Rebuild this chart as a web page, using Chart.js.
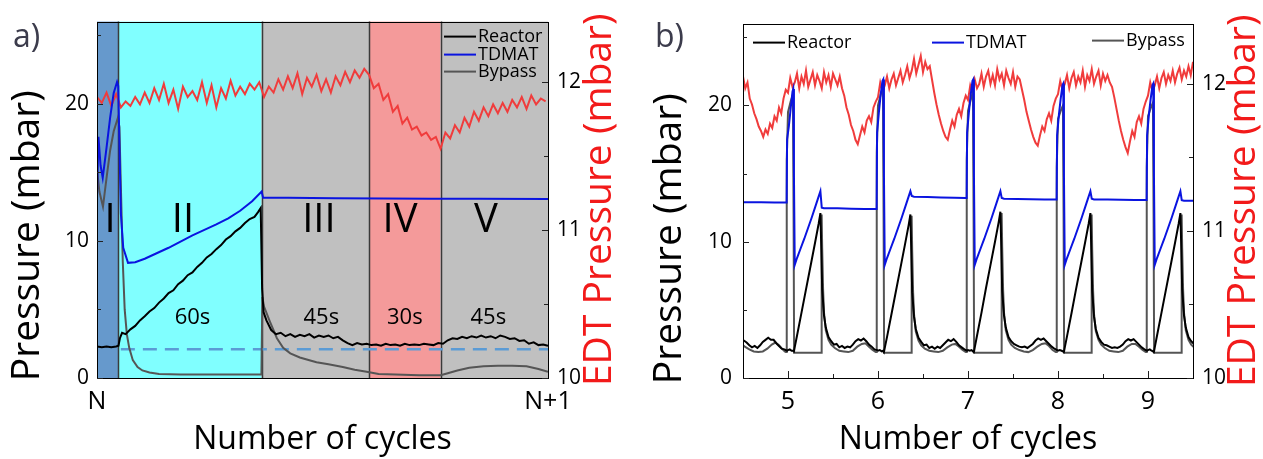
<!DOCTYPE html>
<html>
<head>
<meta charset="utf-8">
<script src="https://cdn.jsdelivr.net/npm/chart.js@4.4.1/dist/chart.umd.min.js"></script>
<style>
  html, body { margin: 0; padding: 0; background: #fff; }
  #wrap { position: relative; width: 1263px; height: 459px; }
  canvas { position: absolute; top: 0; }
</style>
</head>
<body>
<div id="wrap">
  <canvas id="chartA" width="632" height="459" style="left:0px;width:632px;height:459px"></canvas>
  <canvas id="chartB" width="631" height="459" style="left:632px;width:631px;height:459px"></canvas>
</div>
<script>
/* ---------- panel a : one cycle, time in seconds ---------- */
const aPhaseEdges = [0, 9, 69, 114, 144, 189]
const aPhaseNames = ['I', 'II', 'III', 'IV', 'V']
const aPhaseNameT = [5.5, 36, 93, 127, 163]
const aPhaseTimes = ['', '60s', '45s', '30s', '45s']
const aPhaseTimeT = [0, 40, 94, 129, 164]
const aXTickValues = [0, 189]
const aXTickLabels = ['N', 'N+1']

const aReactorT = [0, 2, 4, 6, 8, 9, 9.6, 10.5, 12, 14, 16, 18, 20, 22, 24, 26, 28, 30, 32, 34, 36, 38, 40, 42, 44, 46, 48, 50, 52, 54, 56, 58, 60, 62, 64, 66, 67.5, 68.6, 69.2, 69.8, 71, 73, 75, 77, 79, 81, 83, 85, 87, 89, 91, 93, 95, 97, 99, 101, 103, 105, 107, 109, 111, 113, 115, 117, 119, 121, 123, 125, 127, 129, 131, 133, 135, 137, 139, 141, 143, 145, 147, 149, 151, 153, 155, 157, 159, 161, 163, 165, 167, 169, 171, 173, 175, 177, 179, 181, 183, 185, 187, 189]
const aReactor = [2.3, 2.25, 2.3, 2.25, 2.3, 2.35, 2.9, 3.3, 3.2, 3.55, 3.8, 4.2, 4.5, 4.85, 5.1, 5.5, 5.8, 6.2, 6.4, 6.85, 7.1, 7.5, 7.7, 8.1, 8.4, 8.8, 9.05, 9.4, 9.7, 10.1, 10.35, 10.7, 10.95, 11.3, 11.6, 11.75, 12.1, 12.4, 6.5, 4.8, 4.2, 3.5, 3.2, 3.3, 3.05, 3.2, 3.0, 3.15, 3.05, 3.2, 2.95, 3.1, 3.0, 3.1, 2.9, 3.0, 2.75, 2.55, 2.4, 2.55, 2.45, 2.5, 2.4, 2.45, 2.35, 2.5, 2.4, 2.45, 2.35, 2.5, 2.4, 2.45, 2.4, 2.5, 2.45, 2.4, 2.55, 2.5, 2.75, 2.9, 2.85, 3.0, 2.9, 3.05, 2.95, 3.1, 2.95, 3.05, 2.9, 3.1, 3.0, 2.85, 2.9, 2.7, 2.75, 2.5, 2.6, 2.4, 2.45, 2.35]

const aTdmatT = [0, 0.6, 1.5, 2.4, 4, 5.5, 7, 8.4, 8.9, 9.4, 10, 11, 13, 16, 20, 25, 30, 35, 40, 45, 50, 55, 60, 65, 69, 69.6, 80, 100, 120, 140, 160, 189]
const aTdmat = [13.2, 17.6, 15.5, 14.6, 16.8, 19.0, 20.8, 21.6, 21.3, 17, 12, 9.5, 8.4, 8.45, 8.7, 9.1, 9.5, 9.95, 10.4, 10.8, 11.2, 11.65, 12.2, 12.9, 13.6, 13.15, 13.15, 13.12, 13.1, 13.08, 13.07, 13.05]

const aBypassT = [0, 1, 2.5, 4, 5.5, 7, 8.8, 9.4, 10, 10.8, 11.6, 12.5, 13.5, 15, 17, 19, 22, 26, 35, 50, 68.9, 69.3, 70, 72.5, 75.4, 78, 81, 85, 89, 92, 97, 103, 108, 113, 118, 125, 135, 144, 147, 151, 156, 162, 168, 174, 180, 185, 189]
const aBypass = [15.2, 13.6, 12.5, 14.6, 16.6, 18.0, 19.0, 18.3, 14, 8.5, 5.0, 3.2, 2.2, 1.3, 0.8, 0.55, 0.4, 0.3, 0.25, 0.25, 0.25, 5.9, 5.2, 4.1, 2.9, 2.2, 1.8, 1.5, 1.3, 1.15, 1.0, 0.8, 0.6, 0.45, 0.3, 0.25, 0.2, 0.2, 0.35, 0.55, 0.75, 0.85, 0.9, 0.9, 0.85, 0.65, 0.45]

const aBaseStart = 10
const aBaseLevel = 2.1

// EDT pressure sampled every 2 s
const aEdtStep = 2
const aEdt = [11.90, 11.86, 11.93, 11.84, 11.92,
  11.83, 11.87, 11.84, 11.90, 11.85, 11.93, 11.86, 11.96, 11.88, 11.99, 11.86, 11.95, 11.82, 11.97, 11.90, 11.94, 11.88, 12.00, 11.86, 11.98, 11.83, 11.96, 11.89, 12.01, 11.91, 11.97, 11.92, 11.99, 11.95, 12.00,
  11.90, 11.97, 11.93, 12.02, 11.95, 12.04, 11.96, 12.06, 11.92, 12.03, 11.97, 12.05, 11.94, 12.02, 11.93, 12.04, 11.98, 12.07, 12.00, 12.08, 12.03, 12.09,
  12.05, 11.96, 11.99, 11.88, 11.92, 11.80, 11.84, 11.72, 11.76, 11.68, 11.70, 11.64, 11.66, 11.61, 11.63, 11.55,
  11.66, 11.62, 11.71, 11.66, 11.76, 11.70, 11.80, 11.74, 11.83, 11.77, 11.85, 11.79, 11.86, 11.80, 11.88, 11.83, 11.90, 11.82, 11.91, 11.85, 11.89, 11.87]

/* ---------- panel b : cycles 4.5 .. 9.5 ---------- */
const bCycles = [4, 5, 6, 7, 8, 9]
const bXTicks = [5, 6, 7, 8, 9]

// time inside a cycle (fraction of cycle) + one row of values per cycle
const bReactorU = [0.0, 0.02, 0.04, 0.055, 0.065, 0.10, 0.15, 0.20, 0.25, 0.30, 0.34, 0.36, 0.37, 0.38, 0.40, 0.42, 0.45, 0.48, 0.51, 0.54, 0.57, 0.60, 0.63, 0.66, 0.69, 0.72, 0.75, 0.78, 0.81, 0.84, 0.87, 0.90, 0.93, 0.96, 0.99]
const bReactor = [
  [null, null, null, null, null, null, null, null, null, null, null, null, null, null, null, null, null, 2.85, 2.75, 2.6, 2.4, 2.25, 2.35, 2.2, 2.4, 2.65, 2.8, 2.95, 2.8, 2.8, 2.55, 2.35, 2.15, 2.1, 2.0],
  [2.05, 2.1, 2.0, 2.0, 1.95, 3.1, 4.8, 6.5, 8.2, 9.9, 11.3, 12.1, 9.5, 6.5, 4.6, 3.7, 3.0, 2.7, 2.45, 2.5, 2.25, 2.35, 2.2, 2.3, 2.25, 2.45, 2.7, 2.85, 2.75, 2.9, 2.7, 2.45, 2.3, 2.1, 2.05],
  [2.0, 2.05, 1.95, 2.0, 1.9, 3.0, 4.7, 6.4, 8.1, 9.8, 11.2, 12.0, 9.3, 6.3, 4.5, 3.6, 2.95, 2.65, 2.4, 2.45, 2.2, 2.3, 2.15, 2.3, 2.2, 2.4, 2.6, 2.8, 2.7, 2.85, 2.65, 2.4, 2.25, 2.1, 2.0],
  [2.05, 2.0, 2.05, 1.95, 1.9, 3.1, 4.8, 6.6, 8.3, 10.0, 11.4, 12.2, 9.6, 6.4, 4.6, 3.7, 3.0, 2.7, 2.5, 2.4, 2.3, 2.25, 2.3, 2.2, 2.35, 2.5, 2.75, 2.9, 2.8, 2.9, 2.7, 2.5, 2.3, 2.15, 2.05],
  [2.0, 2.05, 2.0, 1.95, 1.9, 3.05, 4.75, 6.5, 8.2, 9.9, 11.3, 12.1, 9.4, 6.4, 4.5, 3.6, 2.95, 2.65, 2.45, 2.4, 2.3, 2.2, 2.25, 2.2, 2.3, 2.45, 2.7, 2.85, 2.75, 2.85, 2.65, 2.45, 2.25, 2.1, 2.0],
  [2.05, 2.1, 2.0, 1.95, 1.9, 3.1, 4.8, 6.5, 8.2, 9.9, 11.3, 12.1, 9.5, 6.5, 4.6, 3.7, 3.0, 2.7, 2.5, 2.45, null, null, null, null, null, null, null, null, null, null, null, null, null, null, null]
]

const bTdmatU = [-0.015, -0.01, 0.01, 0.03, 0.05, 0.058, 0.066, 0.075, 0.10, 0.14, 0.18, 0.22, 0.26, 0.30, 0.33, 0.36, 0.375, 0.40, 0.55, 0.70, 0.85, 0.975]
const bTdmat = [
  [null, null, null, null, null, null, null, null, null, null, null, null, null, null, null, null, null, 12.9, 12.9, 12.9, 12.88, 12.88],
  [12.88, 17.5, 18.5, 19.8, 21.0, 21.2, 15, 8.3, 8.8, 9.5, 10.2, 10.95, 11.7, 12.5, 13.1, 13.7, 12.5, 12.45, 12.45, 12.42, 12.4, 12.4],
  [12.4, 18, 19.5, 20.8, 21.8, 21.9, 15, 8.3, 8.8, 9.5, 10.2, 10.95, 11.7, 12.5, 13.1, 13.7, 13.35, 13.3, 13.28, 13.25, 13.22, 13.2],
  [13.2, 18, 19.5, 20.8, 21.8, 21.9, 15, 8.3, 8.8, 9.5, 10.2, 10.95, 11.7, 12.5, 13.1, 13.7, 13.2, 13.15, 13.13, 13.12, 13.1, 13.1],
  [13.1, 17.8, 19.3, 20.5, 21.5, 21.6, 15, 8.3, 8.8, 9.5, 10.2, 10.95, 11.7, 12.5, 13.1, 13.7, 13.15, 13.1, 13.1, 13.08, 13.06, 13.05],
  [13.05, 17.8, 19.3, 20.5, 21.5, 21.6, 15, 8.3, 8.8, 9.5, 10.2, 10.95, 11.7, 12.5, 13.1, 13.7, 13.05, 13.0, 13.0, null, null, null]
]

const bBypassU = [-0.018, -0.014, 0.0, 0.03, 0.055, 0.062, 0.068, 0.37, 0.374, 0.38, 0.39, 0.40, 0.42, 0.45, 0.48, 0.52, 0.57, 0.62, 0.67, 0.72, 0.77, 0.82, 0.86, 0.90, 0.94, 0.965, 0.975]
const bBypass = [
  [null, null, null, null, null, null, null, null, null, null, null, null, null, null, 2.5, 2.3, 2.1, 1.95, 1.9, 1.95, 2.15, 2.45, 2.6, 2.4, 2.1, 1.95, 1.9],
  [1.9, 16, 19.5, 20.3, 20.8, 12, 1.85, 1.85, 12.0, 9.5, 6.5, 4.8, 3.5, 2.8, 2.45, 2.2, 2.0, 1.95, 1.9, 2.0, 2.3, 2.5, 2.55, 2.3, 2.05, 1.95, 1.9],
  [1.9, 16.5, 20.0, 20.8, 21.3, 12, 1.85, 1.85, 11.9, 9.3, 6.3, 4.7, 3.4, 2.75, 2.4, 2.15, 2.0, 1.95, 1.9, 2.0, 2.25, 2.45, 2.5, 2.3, 2.05, 1.95, 1.9],
  [1.9, 16, 19.6, 20.4, 21.0, 12, 1.85, 1.85, 12.1, 9.6, 6.5, 4.8, 3.5, 2.8, 2.45, 2.2, 2.05, 1.95, 1.9, 2.05, 2.3, 2.5, 2.55, 2.35, 2.05, 1.95, 1.9],
  [1.9, 15.5, 19.0, 19.6, 20.0, 12, 1.85, 1.85, 12.0, 9.4, 6.4, 4.7, 3.45, 2.8, 2.45, 2.2, 2.0, 1.95, 1.9, 2.0, 2.3, 2.5, 2.5, 2.3, 2.05, 1.95, 1.9],
  [1.9, 15.5, 19.2, 19.8, 20.2, 12, 1.85, 1.85, 12.0, 9.5, 6.5, 4.8, 3.5, 2.8, 2.45, 2.2, null, null, null, null, null, null, null, null, null, null, null]
]

// EDT pressure sampled every 0.025 cycle from 4.5
const bEdtStart = 4.5
const bEdtStep = 0.025
const bEdt = [
  12.05, 11.97, 12.01, 11.90, 11.86, 11.80, 11.76, 11.71, 11.68, 11.64, 11.69, 11.66, 11.73, 11.70, 11.78, 11.75, 11.84, 11.80, 11.90, 11.96,
  11.94, 12.04, 11.98, 12.01, 12.07, 11.97, 12.05, 12.00, 12.09, 11.98, 12.03, 12.08, 11.99, 12.06, 12.02, 11.97, 12.08, 12.01, 12.06, 11.98, 12.07, 12.03, 11.99, 12.05,
  11.97, 11.92, 11.84, 11.79, 11.72, 11.68, 11.62, 11.59, 11.65, 11.71, 11.67, 11.75, 11.78, 11.74, 11.84, 11.88,
  11.91, 12.01, 11.95, 11.99, 12.05, 11.97, 12.03, 12.07, 11.99, 12.04, 12.09, 12.01, 12.06, 12.12, 12.04, 12.09, 12.17, 12.07, 12.13, 12.19, 12.08, 12.15, 12.10, 12.12,
  12.03, 11.94, 11.86, 11.79, 11.73, 11.68, 11.64, 11.62, 11.69, 11.75, 11.71, 11.79, 11.83, 11.78, 11.87, 11.92,
  11.89, 11.99, 11.94, 12.03, 11.97, 12.00, 12.07, 11.98, 12.05, 12.09, 12.00, 12.06, 11.99, 12.10, 12.03, 12.07, 11.99, 12.09, 12.04, 12.00, 12.08, 11.98, 12.05, 12.03,
  11.96, 11.89, 11.81, 11.75, 11.69, 11.64, 11.60, 11.58, 11.65, 11.71, 11.68, 11.76, 11.80, 11.75, 11.85, 11.90,
  11.93, 12.02, 11.96, 12.00, 12.06, 11.97, 12.04, 12.08, 11.99, 12.05, 12.01, 12.09, 11.98, 12.06, 12.02, 12.10, 12.00, 12.05, 12.09, 11.99, 12.07, 12.02, 12.06, 12.01,
  11.98, 11.91, 11.83, 11.75, 11.68, 11.62, 11.57, 11.53, 11.61, 11.68, 11.64, 11.74, 11.78, 11.73, 11.83, 11.88,
  11.92, 12.01, 11.95, 11.99, 12.05, 11.97, 12.04, 12.08, 12.00, 12.06, 12.02, 12.09, 12.01, 12.07, 12.11, 12.03, 12.09, 12.05, 12.12, 12.06, 12.15
]

/* ---------- helpers ---------- */
const FONT = "'Open Sans', sans-serif"
Chart.defaults.font.family = FONT
Chart.defaults.color = '#000'

const colReactor = '#000000'
const colTdmat = '#0a14e0'
const colBypass = '#555555'
const colEdt = '#f03c3c'

function pairs(xs, ys) {
  return xs.map((x, i) => ({ x: x, y: ys[i] }))
}
function stepped(start, step, ys) {
  return ys.map((y, i) => ({ x: start + i * step, y: y }))
}
function cycleSeries(uGrid, rows) {
  const out = []
  bCycles.forEach((n, i) => {
    rows[i].forEach((v, j) => {
      if (v !== null) out.push({ x: n + uGrid[j], y: v })
    })
  })
  return out
}
function fixTicks(values) {
  return function (scale) { scale.ticks = values.map(v => ({ value: v })) }
}

// Draws backgrounds, frame, inward ticks, legend, labels, axis titles
function decor(cfg) {
  return {
    id: 'decor',
    beforeDatasetsDraw(chart) {
      if (!cfg.phases) return
      const { ctx, chartArea: a, scales } = chart
      const p = cfg.phases
      ctx.save()
      for (let i = 0; i < p.colors.length; i++) {
        const x0 = scales.x.getPixelForValue(p.edges[i])
        const x1 = scales.x.getPixelForValue(p.edges[i + 1])
        ctx.fillStyle = p.colors[i]
        ctx.fillRect(x0, a.top, x1 - x0, a.bottom - a.top)
      }
      ctx.strokeStyle = '#3a3a3a'
      ctx.lineWidth = 1.5
      for (let i = 1; i < p.edges.length - 1; i++) {
        const x = Math.round(scales.x.getPixelForValue(p.edges[i])) + 0.5
        ctx.beginPath(); ctx.moveTo(x, a.top); ctx.lineTo(x, a.bottom); ctx.stroke()
      }
      ctx.restore()
    },
    afterDatasetsDraw(chart) {
      const { ctx, chartArea: a, scales } = chart
      ctx.save()
      // phase labels
      if (cfg.phases) {
        const p = cfg.phases
        ctx.fillStyle = '#000'
        ctx.textAlign = 'center'
        ctx.textBaseline = 'middle'
        ctx.font = '40px ' + FONT
        p.names.forEach((t, i) => {
          ctx.fillText(t, scales.x.getPixelForValue(p.nameT[i]), scales.y.getPixelForValue(p.nameY))
        })
        ctx.font = '22px ' + FONT
        p.times.forEach((t, i) => {
          if (t) ctx.fillText(t, scales.x.getPixelForValue(p.timeT[i]), scales.y.getPixelForValue(p.timeY))
        })
      }
      // frame
      ctx.strokeStyle = '#000'
      ctx.lineWidth = 1
      ctx.strokeRect(Math.round(a.left) + 0.5, Math.round(a.top) + 0.5, Math.round(a.right - a.left), Math.round(a.bottom - a.top))
      // inward ticks
      ctx.strokeStyle = '#222'
      cfg.ticks.forEach(t => {
        const s = scales[t.axis]
        t.values.forEach(v => {
          const p = Math.round(s.getPixelForValue(v)) + 0.5
          ctx.beginPath()
          if (t.axis === 'x') { ctx.moveTo(p, a.bottom); ctx.lineTo(p, a.bottom - t.len) }
          else if (t.axis === 'y') { ctx.moveTo(a.left, p); ctx.lineTo(a.left + t.len, p) }
          else { ctx.moveTo(a.right, p); ctx.lineTo(a.right - t.len, p) }
          ctx.stroke()
        })
      })
      // legend
      ctx.font = '18px ' + FONT
      ctx.textAlign = 'left'
      ctx.textBaseline = 'middle'
      cfg.legend.forEach(item => {
        const ds = chart.data.datasets[item.index]
        const x = item.corner === 'right' ? a.right + item.dx : a.left + item.dx
        const y = a.top + item.dy
        ctx.strokeStyle = ds.borderColor
        ctx.lineWidth = 2
        ctx.beginPath(); ctx.moveTo(x, y); ctx.lineTo(x + 32, y); ctx.stroke()
        ctx.fillStyle = '#000'
        ctx.fillText(ds.label, x + 34, y)
      })
      ctx.restore()
    },
    afterDraw(chart) {
      const { ctx, chartArea: a } = chart
      const mid = (a.top + a.bottom) / 2
      ctx.save()
      ctx.font = '39px ' + FONT
      ctx.textAlign = 'center'
      ctx.textBaseline = 'middle'
      // left axis title
      ctx.save()
      ctx.translate(cfg.leftTitleX, mid + cfg.leftTitleDy)
      ctx.rotate(-Math.PI / 2)
      ctx.fillStyle = '#000'
      ctx.fillText('Pressure (mbar)', 0, 0)
      ctx.restore()
      // right axis title, also reading upwards
      ctx.save()
      ctx.translate(a.right + cfg.rightTitleDx, mid)
      ctx.rotate(-Math.PI / 2)
      ctx.fillStyle = '#f21a1a'
      ctx.fillText('EDT Pressure (mbar)', 0, 0)
      ctx.restore()
      // panel letter
      ctx.fillStyle = '#3c3c4c'
      ctx.font = '32px ' + FONT
      ctx.textAlign = 'left'
      ctx.textBaseline = 'alphabetic'
      ctx.fillText(cfg.letter, cfg.letterX, 47)
      ctx.restore()
    }
  }
}

function scalesFor(o) {
  return {
    x: {
      type: 'linear', position: 'bottom', min: o.xMin, max: o.xMax,
      afterBuildTicks: fixTicks(o.xTicks),
      afterFit: s => { s.height = 81 },
      grid: { display: false, drawTicks: false },
      border: { display: false },
      ticks: { font: { size: 25 }, padding: 9, maxRotation: 0, autoSkip: false, callback: o.xLabel },
      title: { display: true, text: 'Number of cycles', font: { size: 32 }, padding: { top: 0, bottom: 0 } }
    },
    y: {
      type: 'linear', position: 'left', min: 0, max: 26,
      afterBuildTicks: fixTicks([0, 10, 20]),
      afterFit: s => { s.width = o.leftWidth },
      grid: { display: false, drawTicks: false },
      border: { display: false },
      ticks: { font: { size: 21 }, padding: o.leftPad }
    },
    y1: {
      type: 'linear', position: 'right', min: 10, max: 12.41,
      afterBuildTicks: fixTicks([10, 11, 12]),
      afterFit: s => { s.width = o.rightWidth },
      grid: { display: false, drawTicks: false },
      border: { display: false },
      ticks: { font: { size: 21 }, padding: 9 }
    }
  }
}

const common = {
  responsive: false,
  animation: false,
  devicePixelRatio: 1,
  layout: { padding: { top: 14, left: 0, right: 0, bottom: 0 } },
  elements: { point: { radius: 0 }, line: { borderWidth: 2, tension: 0 } },
  plugins: { legend: { display: false }, tooltip: { enabled: false } }
}

/* ---------- chart a ---------- */
new Chart(document.getElementById('chartA'), {
  type: 'line',
  data: {
    datasets: [
      { label: 'Reactor', data: pairs(aReactorT, aReactor), borderColor: colReactor, yAxisID: 'y', clip: 0 },
      { label: 'TDMAT', data: pairs(aTdmatT, aTdmat), borderColor: colTdmat, yAxisID: 'y', clip: 0 },
      { label: 'Bypass', data: pairs(aBypassT, aBypass), borderColor: colBypass, yAxisID: 'y', clip: 0 },
      { label: 'base', data: [{ x: aBaseStart, y: aBaseLevel }, { x: aPhaseEdges[5], y: aBaseLevel }], borderColor: '#5b9bd5', borderWidth: 2.5, borderDash: [14, 8], yAxisID: 'y', clip: 0 },
      { label: 'EDT', data: stepped(0, aEdtStep, aEdt), borderColor: colEdt, yAxisID: 'y1', clip: 0 }
    ]
  },
  options: Object.assign({}, common, {
    scales: scalesFor({
      xMin: 0, xMax: 189, xTicks: aXTickValues,
      xLabel: v => aXTickLabels[aXTickValues.indexOf(v)],
      leftWidth: 97, leftPad: 8, rightWidth: 84
    })
  }),
  plugins: [decor({
    letter: 'a)', letterX: 13, rightTitleDx: 52, leftTitleX: 28, leftTitleDy: 36,
    phases: {
      edges: aPhaseEdges,
      colors: ['#6699cc', '#80ffff', '#c0c0c0', '#f49a9a', '#c0c0c0'],
      names: aPhaseNames, nameT: aPhaseNameT, nameY: 11.5,
      times: aPhaseTimes, timeT: aPhaseTimeT, timeY: 4.4
    },
    ticks: [
      { axis: 'y', values: [0, 10, 20], len: 6 }, { axis: 'y', values: [5, 15, 25], len: 4 },
      { axis: 'y1', values: [10, 11, 12], len: 6 }, { axis: 'y1', values: [10.5, 11.5], len: 4 }
    ],
    legend: [
      { index: 0, corner: 'right', dx: -104, dy: 15 },
      { index: 1, corner: 'right', dx: -104, dy: 33 },
      { index: 2, corner: 'right', dx: -104, dy: 50 }
    ]
  })]
})

/* ---------- chart b ---------- */
new Chart(document.getElementById('chartB'), {
  type: 'line',
  data: {
    datasets: [
      { label: 'Reactor', data: cycleSeries(bReactorU, bReactor), borderColor: colReactor, yAxisID: 'y', clip: 0 },
      { label: 'TDMAT', data: cycleSeries(bTdmatU, bTdmat), borderColor: colTdmat, yAxisID: 'y', clip: 0 },
      { label: 'Bypass', data: cycleSeries(bBypassU, bBypass), borderColor: colBypass, yAxisID: 'y', clip: 0 },
      { label: 'EDT', data: stepped(bEdtStart, bEdtStep, bEdt), borderColor: colEdt, yAxisID: 'y1', clip: 0 }
    ]
  },
  options: Object.assign({}, common, {
    scales: scalesFor({
      xMin: 4.5, xMax: 9.5, xTicks: bXTicks,
      xLabel: v => String(v),
      leftWidth: 111, leftPad: 11, rightWidth: 70
    })
  }),
  plugins: [decor({
    letter: 'b)', letterX: 23, rightTitleDx: 51, leftTitleX: 38, leftTitleDy: 38,
    phases: null,
    ticks: [
      { axis: 'y', values: [0, 10, 20], len: 6 }, { axis: 'y', values: [5, 15, 25], len: 4 },
      { axis: 'y1', values: [10, 11, 12], len: 6 }, { axis: 'y1', values: [10.5, 11.5], len: 4 },
      { axis: 'x', values: [5, 6, 7, 8, 9], len: 7 }, { axis: 'x', values: [5.5, 6.5, 7.5, 8.5], len: 4 }
    ],
    legend: [
      { index: 0, corner: 'left', dx: 10, dy: 19 },
      { index: 1, corner: 'left', dx: 189, dy: 19 },
      { index: 2, corner: 'left', dx: 349, dy: 17 }
    ]
  })]
})
</script>
</body>
</html>
